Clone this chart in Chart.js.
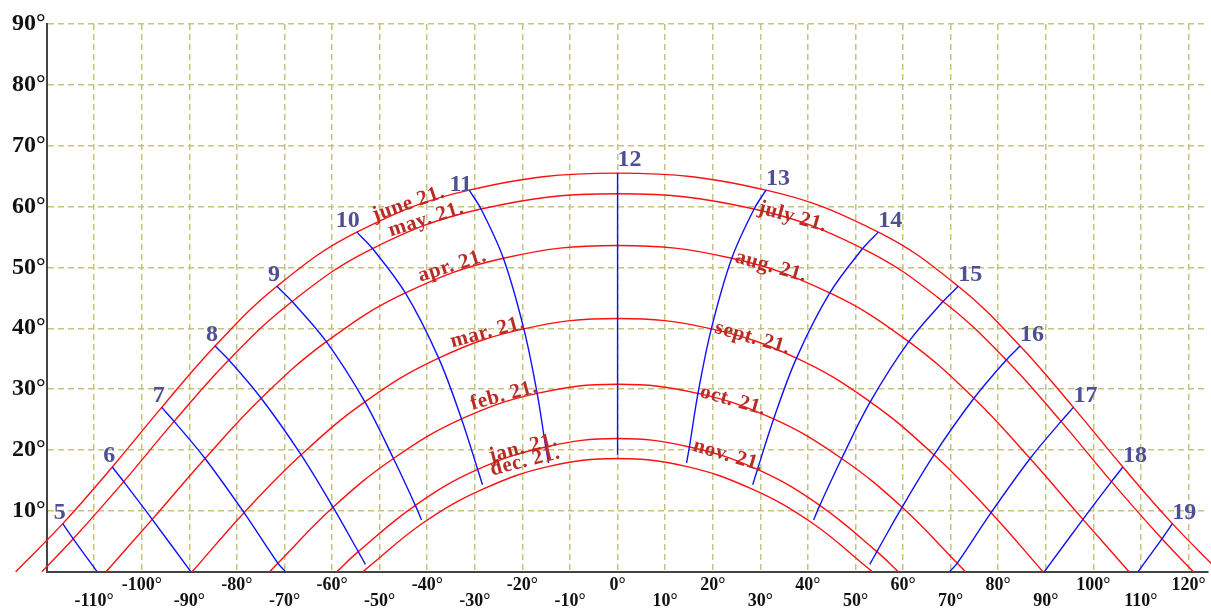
<!DOCTYPE html>
<html>
<head>
<meta charset="utf-8">
<script src="https://cdn.jsdelivr.net/npm/chart.js@4.4.1/dist/chart.umd.min.js"></script>
<style>
  html, body { margin: 0; padding: 0; background: #ffffff; }
  #wrap { width: 1211px; height: 610px; }
</style>
</head>
<body>
<div id="wrap"><canvas id="sunpath" width="1211" height="610"></canvas></div>
<script>
// Sun path diagram (about 48° N): solar azimuth in degrees from south
// (west positive) against solar altitude in degrees.

const xTicks = [-110, -100, -90, -80, -70, -60, -50, -40, -30, -20, -10, 0,
                10, 20, 30, 40, 50, 60, 70, 80, 90, 100, 110, 120];
const yTicks = [10, 20, 30, 40, 50, 60, 70, 80, 90];

// Day paths on the 21st of the month: sunrise, every full hour, sunset. [azimuth, altitude]
const dec21 = [[-53.5, 0], [-52.6, 0.6], [-40.9, 8.0], [-28.2, 13.6], [-14.4, 17.3], [0, 18.6],
               [14.4, 17.3], [28.2, 13.6], [40.9, 8.0], [52.6, 0.6], [53.5, 0]];
const jan21 = [[-59.0, 0], [-54.5, 3.3], [-42.5, 10.9], [-29.4, 16.8], [-15.1, 20.5], [0, 21.9],
               [15.1, 20.5], [29.4, 16.8], [42.5, 10.9], [54.5, 3.3], [59.0, 0]];
const feb21 = [[-73.1, 0], [-71.4, 1.4], [-59.8, 10.6], [-47.1, 18.6], [-32.8, 25.1], [-16.9, 29.3], [0, 30.8],
               [16.9, 29.3], [32.8, 25.1], [47.1, 18.6], [59.8, 10.6], [71.4, 1.4], [73.1, 0]];
const mar21 = [[-89.4, 0], [-78.5, 9.7], [-66.5, 19.2], [-53.1, 27.9], [-37.6, 35.1], [-19.7, 39.9], [0, 41.6],
               [19.7, 39.9], [37.6, 35.1], [53.1, 27.9], [66.5, 19.2], [78.5, 9.7], [89.4, 0]];
const apr21 = [[-107.5, 0], [-97.8, 8.6], [-86.7, 18.6], [-74.9, 28.5], [-61.2, 37.8], [-44.6, 45.8], [-24.0, 51.5], [0, 53.6],
               [24.0, 51.5], [44.6, 45.8], [61.2, 37.8], [74.9, 28.5], [86.7, 18.6], [97.8, 8.6], [107.5, 0]];
const may21 = [[-121.0, 0], [-114.4, 5.4], [-103.8, 14.8], [-93.2, 24.7], [-81.7, 34.8], [-68.4, 44.4], [-51.5, 53.1], [-28.7, 59.6], [0, 62.1],
               [28.7, 59.6], [51.5, 53.1], [68.4, 44.4], [81.7, 34.8], [93.2, 24.7], [103.8, 14.8], [114.4, 5.4], [121.0, 0]];
const jun21 = [[-126.5, 0], [-116.6, 7.9], [-106.2, 17.2], [-95.8, 27.0], [-84.6, 37.1], [-71.6, 46.9], [-54.8, 55.8], [-31.2, 62.7], [0, 65.5],
               [31.2, 62.7], [54.8, 55.8], [71.6, 46.9], [84.6, 37.1], [95.8, 27.0], [106.2, 17.2], [116.6, 7.9], [126.5, 0]];

// Hour lines, from early January (or the horizon) up to 21 June. [azimuth, altitude]
const hour05 = [[-109.4, 0], [-114.4, 5.4], [-116.6, 7.9]];
const hour06 = [[-89.7, 0], [-97.8, 8.6], [-103.8, 14.8], [-106.2, 17.2]];
const hour07 = [[-69.8, 0], [-71.4, 1.4], [-78.5, 9.7], [-86.7, 18.6], [-93.2, 24.7], [-95.8, 27.0]];
const hour08 = [[-53.0, 1.2], [-54.5, 3.3], [-59.8, 10.6], [-66.5, 19.2], [-74.9, 28.5], [-81.7, 34.8], [-84.6, 37.1]];
const hour09 = [[-41.2, 8.5], [-42.5, 10.9], [-47.1, 18.6], [-53.1, 27.9], [-61.2, 37.8], [-68.4, 44.4], [-71.6, 46.9]];
const hour10 = [[-28.4, 14.3], [-29.4, 16.8], [-32.8, 25.1], [-37.6, 35.1], [-44.6, 45.8], [-51.5, 53.1], [-54.8, 55.8]];
const hour11 = [[-14.5, 17.9], [-15.1, 20.5], [-16.9, 29.3], [-19.7, 39.9], [-24.0, 51.5], [-28.7, 59.6], [-31.2, 62.7]];
const hour12 = [[0, 19.2], [0, 21.9], [0, 30.8], [0, 41.6], [0, 53.6], [0, 62.1], [0, 65.5]];
const hour13 = [[14.5, 17.9], [15.1, 20.5], [16.9, 29.3], [19.7, 39.9], [24.0, 51.5], [28.7, 59.6], [31.2, 62.7]];
const hour14 = [[28.4, 14.3], [29.4, 16.8], [32.8, 25.1], [37.6, 35.1], [44.6, 45.8], [51.5, 53.1], [54.8, 55.8]];
const hour15 = [[41.2, 8.5], [42.5, 10.9], [47.1, 18.6], [53.1, 27.9], [61.2, 37.8], [68.4, 44.4], [71.6, 46.9]];
const hour16 = [[53.0, 1.2], [54.5, 3.3], [59.8, 10.6], [66.5, 19.2], [74.9, 28.5], [81.7, 34.8], [84.6, 37.1]];
const hour17 = [[69.8, 0], [71.4, 1.4], [78.5, 9.7], [86.7, 18.6], [93.2, 24.7], [95.8, 27.0]];
const hour18 = [[89.7, 0], [97.8, 8.6], [103.8, 14.8], [106.2, 17.2]];
const hour19 = [[109.4, 0], [114.4, 5.4], [116.6, 7.9]];

const hourNames = ['5', '6', '7', '8', '9', '10', '11', '12', '13', '14', '15', '16', '17', '18', '19'];
const morningNames = ['dec. 21.', 'jan. 21.', 'feb. 21.', 'mar. 21.', 'apr. 21.', 'may. 21.', 'june 21.'];
const afternoonNames = [null, 'nov. 21.', 'oct. 21.', 'sept. 21.', 'aug. 21.', 'july 21.', null];

const dayCurves = [dec21, jan21, feb21, mar21, apr21, may21, jun21];
const hourLines = [hour05, hour06, hour07, hour08, hour09, hour10, hour11, hour12,
                   hour13, hour14, hour15, hour16, hour17, hour18, hour19];

// ---- drawing setup -------------------------------------------------------
const SERIF = "'Liberation Serif', 'Times New Roman', serif";
const RED = '#ff1010';
const BLUE = '#1010ff';
const GRID = 'rgb(196, 196, 128)';
const AXIS = '#444444';

// where the date captions start (azimuth) and how far they sit off their curve (px)
const morningCaption = { start: [-25.9, -26.6, -30.3, -34.5, -41.2, -47.5, -50.9], lift: [9, 2, 4, 4, 4, 3, 2] };
const afternoonCaption = { start: [null, 15.8, 17.3, 20.4, 24.7, 29.5, null], drop: 3 };
// small per-hour nudges of the hour numbers (px, downwards)
const hourNudge = { '11': 6 };

const toPoints = arr => arr.map(([x, y]) => ({ x, y }));

const hourSets = hourLines.map(line => ({
  data: toPoints(line), borderColor: BLUE, borderWidth: 1.4, tension: 0.35
}));
const daySets = dayCurves.map(curve => ({
  data: toPoints(curve), borderColor: RED, borderWidth: 1.4, tension: 0.4
}));
const datasets = [...hourSets, ...daySets].map(d => Object.assign(d, {
  pointRadius: 0, pointHoverRadius: 0, fill: false, clip: false,
  capBezierPoints: false, spanGaps: true
}));
const DAY0 = hourSets.length;

function cubic(a, b, c, d, t) {
  const u = 1 - t;
  return u * u * u * a + 3 * u * u * t * b + 3 * u * t * t * c + t * t * t * d;
}

// pixel y of a drawn day curve at pixel x, following the bezier path Chart.js drew
function curveY(meta, px) {
  const pts = meta.data;
  for (let i = 0; i < pts.length - 1; i++) {
    const a = pts[i], b = pts[i + 1];
    if ((px - a.x) * (px - b.x) <= 0 && a.x !== b.x) {
      const c1x = a.cp2x ?? a.x, c1y = a.cp2y ?? a.y;
      const c2x = b.cp1x ?? b.x, c2y = b.cp1y ?? b.y;
      const inc = b.x > a.x;
      let lo = 0, hi = 1;
      for (let k = 0; k < 40; k++) {
        const m = (lo + hi) / 2;
        if ((cubic(a.x, c1x, c2x, b.x, m) < px) === inc) lo = m; else hi = m;
      }
      return cubic(a.y, c1y, c2y, b.y, (lo + hi) / 2);
    }
  }
  return null;
}

const captions = {
  id: 'captions',
  afterDatasetsDraw(chart) {
    const ctx = chart.ctx;
    const xs = chart.scales.x;

    // hour numbers at the top end of each hour line
    ctx.save();
    ctx.font = 'bold 24px ' + SERIF;
    ctx.fillStyle = '#4f4f94';
    ctx.textBaseline = 'alphabetic';
    hourNames.forEach((name, i) => {
      const pts = chart.getDatasetMeta(i).data;
      const top = pts[pts.length - 1];
      const value = hourLines[i][hourLines[i].length - 1][0];
      const nudge = hourNudge[name] || 0;
      if (value < 0) {
        ctx.textAlign = 'right';
        ctx.fillText(name, top.x + 3, top.y - 5 + nudge);
      } else {
        ctx.textAlign = 'left';
        ctx.fillText(name, top.x, top.y - (value === 0 ? 7 : 5) + nudge);
      }
    });
    ctx.restore();

    // date captions laid along the day curves
    ctx.save();
    ctx.font = 'bold 21px ' + SERIF;
    if ('letterSpacing' in ctx) ctx.letterSpacing = '0.5px';
    ctx.fillStyle = '#b82c26';
    ctx.textAlign = 'left';
    ctx.textBaseline = 'alphabetic';
    const put = (meta, text, az, above, off) => {
      const w = ctx.measureText(text).width;
      const x0 = xs.getPixelForValue(az);
      const xa = above ? x0 + w * 0.3 : x0;
      const xb = above ? x0 + w : x0 + w * 0.6;
      const ya = curveY(meta, xa), yb = curveY(meta, xb), y0 = curveY(meta, x0);
      if (ya === null || yb === null || y0 === null) return;
      const ang = Math.atan2(yb - ya, xb - xa);
      ctx.save();
      ctx.translate(x0, y0);
      ctx.rotate(ang);
      ctx.fillText(text, 0, above ? -off : off);
      ctx.restore();
    };
    dayCurves.forEach((c, k) => {
      const meta = chart.getDatasetMeta(DAY0 + k);
      put(meta, morningNames[k], morningCaption.start[k], true, morningCaption.lift[k]);
      if (afternoonNames[k]) {
        put(meta, afternoonNames[k], afternoonCaption.start[k], false, afternoonCaption.drop);
      }
    });
    ctx.restore();
  }
};

const tickFontX = { family: SERIF, size: 18, weight: 'bold', lineHeight: 16 / 18 };
const tickFontY = { family: SERIF, size: 24, weight: 'bold' };

new Chart(document.getElementById('sunpath'), {
  type: 'line',
  data: { datasets },
  options: {
    responsive: false,
    animation: false,
    devicePixelRatio: 1,
    events: [],
    layout: { padding: { top: 24, right: 3.3, bottom: 0, left: 0 } },
    plugins: { legend: { display: false }, tooltip: { enabled: false } },
    elements: { line: { capBezierPoints: false } },
    scales: {
      x: {
        type: 'linear', position: 'bottom', min: -120, max: 124,
        afterBuildTicks: s => { s.ticks = xTicks.map(v => ({ value: v })); },
        afterFit: s => { s.height = 38.3; },
        grid: { color: GRID, lineWidth: 1.5, drawTicks: false },
        border: { display: true, color: AXIS, width: 2, dash: [6, 4] },
        ticks: {
          autoSkip: false, maxRotation: 0, padding: 5.3, color: '#111111', font: tickFontX,
          callback: v => {
            const s = Math.round(v) + '°';
            return (Math.round(Math.abs(v) / 10) % 2 === 0) ? [s] : ['', s];
          }
        }
      },
      y: {
        type: 'linear', position: 'left', min: 0, max: 90,
        afterBuildTicks: s => { s.ticks = yTicks.map(v => ({ value: v })); },
        afterFit: s => { s.width = 46.6; },
        grid: { color: GRID, lineWidth: 1.5, drawTicks: false },
        border: { display: true, color: AXIS, width: 2, dash: [6, 4] },
        ticks: { padding: 1, color: '#111111', font: tickFontY, callback: v => Math.round(v) + '°' }
      }
    }
  },
  plugins: [captions]
});
</script>
</body>
</html>
